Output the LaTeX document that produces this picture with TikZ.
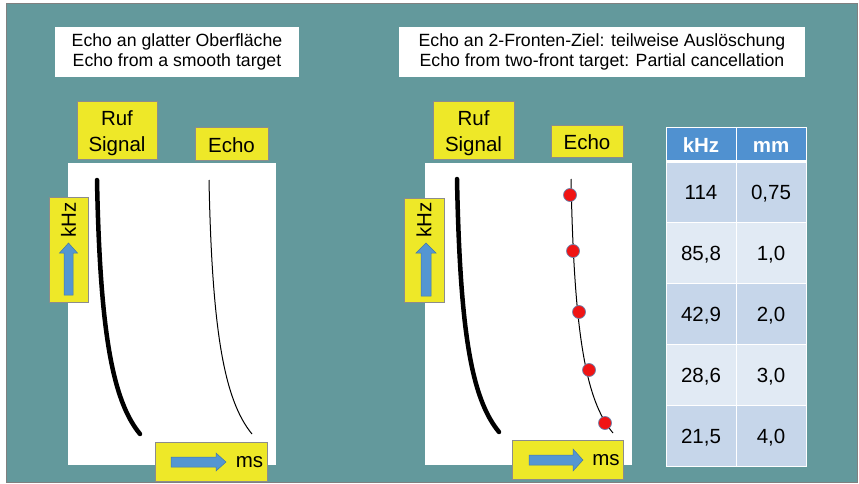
\documentclass[tikz,border=0pt]{standalone}
\usepackage{fontspec}
\setmainfont{Liberation Sans}
\definecolor{teal0}{RGB}{99,153,156}
\definecolor{ylw}{RGB}{238,232,40}
\definecolor{blu}{RGB}{84,150,210}
\definecolor{hdr}{RGB}{80,145,208}
\definecolor{rowa}{RGB}{198,214,234}
\definecolor{rowb}{RGB}{225,234,244}
\definecolor{dotred}{RGB}{240,20,20}
\definecolor{dotedge}{RGB}{110,130,170}
\begin{document}
\begin{tikzpicture}[x=1pt,y=-1pt,
  ttl/.style={fill=white, inner sep=0pt, outer sep=0pt, align=center, font=\fontsize{17.7}{20.5}\selectfont},
  plotbox/.style={fill=white, inner sep=0pt, outer sep=0pt},
  ybox/.style={fill=ylw, draw=black!45, line width=0.8pt, inner sep=0pt, outer sep=0pt, align=center, font=\fontsize{20.5}{26}\selectfont},
  lbl/.style={inner sep=0pt, font=\fontsize{20.5}{24}\selectfont},
  sig/.style={line width=4.5pt, line cap=round},
  ech/.style={line width=1pt},
  dotmark/.style={circle, fill=dotred, draw=dotedge, line width=0.7pt, minimum size=13pt, inner sep=0pt},
  barrow/.style={fill=blu, draw=blu!80!black, line width=0.5pt},
  cell/.style={draw=white, line width=1pt, inner sep=0pt, outer sep=0pt, text height=15pt, text depth=0pt, font=\fontsize{20.5}{24}\selectfont},
]
\useasboundingbox (0,0) rectangle (859,484);
\fill[white] (0,0) rectangle (859,484);
\draw[fill=teal0, draw=black!50, line width=1pt] (6,4) rectangle (857,482);

% titles
\node[ttl, minimum width=244pt, minimum height=50pt] (t1) at (177,52) {Echo an glatter Oberfläche\\Echo from a smooth target};
\node[ttl, minimum width=406pt, minimum height=50pt] (t2) at (602,52) {Echo an 2-Fronten-Ziel: teilweise Auslöschung\\Echo from two-front target: Partial cancellation};

% left panel
\node[plotbox, minimum width=208pt, minimum height=302pt] (p1) at (172,314) {};
\draw[sig] (97,180) .. controls (100,330) and (112,400) .. (140,434);
\draw[ech] (209,180) .. controls (212,330) and (224,400) .. (252,434);
\node[ybox, minimum width=80pt, minimum height=58pt] (r1) at (117,130) {};
\node[lbl, anchor=base] (r1a) at (117,125) {Ruf};
\node[lbl, anchor=base] (r1b) at (117,151) {Signal};
\node[ybox, minimum width=73pt, minimum height=33pt] (e1) at (231.5,143.5) {};
\node[lbl, anchor=base] (e1t) at (231.5,152) {Echo};
\node[ybox, minimum width=39pt, minimum height=105pt] (k1) at (68.5,249.5) {};
\node[lbl, rotate=90] (k1t) at (68.5,220) {kHz};
\draw[barrow] (64,295)--(64,253)--(59.5,253)--(68.5,243)--(77.5,253)--(73,253)--(73,295)--cycle;
\node[ybox, minimum width=112pt, minimum height=39pt] (m1) at (211,461.5) {};
\node[lbl] (m1t) at (249.5,462) {ms};
\draw[barrow] (171,457)--(216,457)--(216,453)--(226,462)--(216,471)--(216,467)--(171,467)--cycle;

% right panel
\node[plotbox, minimum width=207pt, minimum height=302pt] (p2) at (528.5,314) {};
\draw[sig] (457,179) .. controls (460,330) and (471,398) .. (499,432);
\draw[ech] (571,179) .. controls (574,330) and (585,400) .. (613,433);
\node[dotmark] (d1) at (570,195) {};
\node[dotmark] (d2) at (573,251) {};
\node[dotmark] (d3) at (579,312) {};
\node[dotmark] (d4) at (589,370) {};
\node[dotmark] (d5) at (605,423) {};
\node[ybox, minimum width=81pt, minimum height=58pt] (r2) at (473.5,130) {};
\node[lbl, anchor=base] (r2a) at (473.5,125) {Ruf};
\node[lbl, anchor=base] (r2b) at (473.5,151) {Signal};
\node[ybox, minimum width=72pt, minimum height=32pt] (e2) at (587,141) {};
\node[lbl, anchor=base] (e2t) at (587,149.5) {Echo};
\node[ybox, minimum width=40pt, minimum height=104pt] (k2) at (424,250) {};
\node[lbl, rotate=90] (k2t) at (424,220) {kHz};
\draw[barrow] (421,296)--(421,253)--(416,253)--(426,243)--(436,253)--(431,253)--(431,296)--cycle;
\node[ybox, minimum width=111pt, minimum height=39pt] (m2) at (567.5,459.5) {};
\node[lbl] (m2t) at (606,460) {ms};
\draw[barrow] (529,455)--(573,455)--(573,449)--(583,460)--(573,471)--(573,465)--(529,465)--cycle;

% table
\node[cell, fill=hdr, text=white, font=\fontsize{20.5}{24}\selectfont\bfseries, minimum width=70pt, minimum height=33pt] (h1) at (701,144.5) {kHz};
\node[cell, fill=hdr, text=white, font=\fontsize{20.5}{24}\selectfont\bfseries, minimum width=70pt, minimum height=33pt] (h2) at (771,144.5) {mm};
\node[cell, fill=rowa, minimum width=70pt, minimum height=60pt] (a1) at (701,192) {114};
\node[cell, fill=rowa, minimum width=70pt, minimum height=60pt] (b1) at (771,192) {0,75};
\node[cell, fill=rowb, minimum width=70pt, minimum height=61pt] (a2) at (701,252.5) {85,8};
\node[cell, fill=rowb, minimum width=70pt, minimum height=61pt] (b2) at (771,252.5) {1,0};
\node[cell, fill=rowa, minimum width=70pt, minimum height=61pt] (a3) at (701,313.5) {42,9};
\node[cell, fill=rowa, minimum width=70pt, minimum height=61pt] (b3) at (771,313.5) {2,0};
\node[cell, fill=rowb, minimum width=70pt, minimum height=61pt] (a4) at (701,374.5) {28,6};
\node[cell, fill=rowb, minimum width=70pt, minimum height=61pt] (b4) at (771,374.5) {3,0};
\node[cell, fill=rowa, minimum width=70pt, minimum height=61pt] (a5) at (701,435.5) {21,5};
\node[cell, fill=rowa, minimum width=70pt, minimum height=61pt] (b5) at (771,435.5) {4,0};
\draw[white, line width=2.5pt] (h1.south west) -- (h2.south east);
\end{tikzpicture}
\end{document}
